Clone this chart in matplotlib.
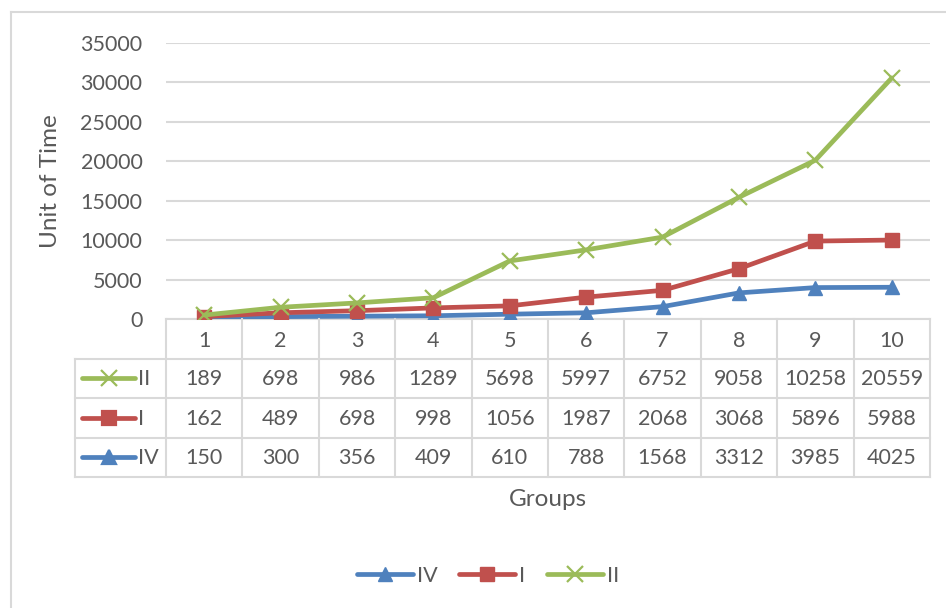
import matplotlib
matplotlib.use('Agg')
import matplotlib.pyplot as plt
from matplotlib.lines import Line2D

# stacked line chart with data table (Excel style)
groups = ['1', '2', '3', '4', '5', '6', '7', '8', '9', '10']
s_iv = [150, 300, 356, 409, 610, 788, 1568, 3312, 3985, 4025]
s_i = [162, 489, 698, 998, 1056, 1987, 2068, 3068, 5896, 5988]
s_ii = [189, 698, 986, 1289, 5698, 5997, 6752, 9058, 10258, 20559]
yticks = [0, 5000, 10000, 15000, 20000, 25000, 30000, 35000]

c_iv = '#4F81BD'
c_i = '#C0504D'
c_ii = '#9BBB59'
txt = '#595959'
grid = '#D9D9D9'
FONT = 'Lato'
FS = 15.5

W, H = 946, 608
fig = plt.figure(figsize=(W / 100, H / 100), dpi=100)

def px(x0, y0, x1, y1):
    return [x0 / W, 1 - y1 / H, (x1 - x0) / W, (y1 - y0) / H]

# chart border (only top and left visible)
fig.add_artist(Line2D([11 / W, 11 / W], [0, 1 - 12 / H], transform=fig.transFigure, color=grid, lw=1.5))
fig.add_artist(Line2D([11 / W, 1], [1 - 12 / H, 1 - 12 / H], transform=fig.transFigure, color=grid, lw=1.5))

ax = fig.add_axes(px(166, 43, 930, 319))
xs = [i + 0.5 for i in range(len(groups))]
cum_i = [a + b for a, b in zip(s_iv, s_i)]
cum_ii = [a + b for a, b in zip(cum_i, s_ii)]

ax.plot(xs, s_iv, color=c_iv, lw=3.4, marker='^', ms=10, solid_capstyle='round', zorder=3)
ax.plot(xs, cum_i, color=c_i, lw=3.4, marker='s', ms=9.5, solid_capstyle='round', zorder=4)
ax.plot(xs, cum_ii, color=c_ii, lw=3.4, marker='x', ms=11, mew=1.6, solid_capstyle='round', zorder=5)

ax.set_xlim(0, 10)
ax.set_ylim(0, 35000)
ax.set_yticks(yticks)
ax.set_yticklabels([str(v) for v in yticks], fontsize=FS, color=txt, family=FONT)
ax.set_xticks([])
ax.tick_params(axis='y', length=0, pad=17)
ax.grid(axis='y', color=grid, lw=1.5)
ax.set_axisbelow(True)
for s in ['top', 'right', 'left']:
    ax.spines[s].set_visible(False)
ax.spines['bottom'].set_color(grid)
ax.spines['bottom'].set_linewidth(1.5)
ax.set_ylabel('Unit of Time', fontsize=17.5, color=txt, family=FONT, labelpad=14)

# data table below the plot
left_col = (75 - 166) / 76.4
tab = fig.add_axes(px(75, 319, 930, 477))
tab.set_xlim(left_col, 10)
tab.set_ylim(4, 0)
tab.axis('off')
lk = dict(color=grid, lw=1.5, clip_on=False)
for i in range(11):
    tab.plot([i, i], [0, 4], **lk)
tab.plot([left_col, left_col], [1, 4], **lk)
for r in [1, 2, 3, 4]:
    tab.plot([left_col, 10], [r, r], **lk)
for i, g in enumerate(groups):
    tab.text(i + 0.5, 0.55, g, ha='center', va='center', fontsize=FS, color=txt, family=FONT)

rows = [('II', s_ii, c_ii, 'x'), ('I', s_i, c_i, 's'), ('IV', s_iv, c_iv, '^')]
for r, (name, vals, col, mk) in enumerate(rows):
    y = r + 1.5
    tab.plot([left_col + 0.09, left_col + 0.79], [y, y], color=col, lw=3.4, solid_capstyle='round', clip_on=False)
    tab.plot([left_col + 0.44], [y], color=col, marker=mk, ms=11 if mk == 'x' else 10, mew=1.6, clip_on=False)
    tab.text(left_col + 0.83, y + 0.02, name, ha='left', va='center', fontsize=FS, color=txt, family=FONT)
    for i, v in enumerate(vals):
        tab.text(i + 0.5, y + 0.02, str(v), ha='center', va='center', fontsize=FS, color=txt, family=FONT)

fig.text(548 / W, 1 - 500 / H, 'Groups', ha='center', va='center', fontsize=17.5, color=txt, family=FONT)

# legend
handles = [
    Line2D([], [], color=c_iv, lw=3.4, marker='^', ms=10, solid_capstyle='round'),
    Line2D([], [], color=c_i, lw=3.4, marker='s', ms=9.5, solid_capstyle='round'),
    Line2D([], [], color=c_ii, lw=3.4, marker='x', ms=11, mew=1.6, solid_capstyle='round'),
]
fig.legend(handles, ['IV', 'I', 'II'], loc='center', bbox_to_anchor=(488 / W, 1 - 576 / H),
           ncol=3, frameon=False, handlelength=2.6, handletextpad=0.2, columnspacing=1.0,
           prop={'family': FONT, 'size': FS}, labelcolor=txt)

fig.savefig('out.png', dpi=100)
